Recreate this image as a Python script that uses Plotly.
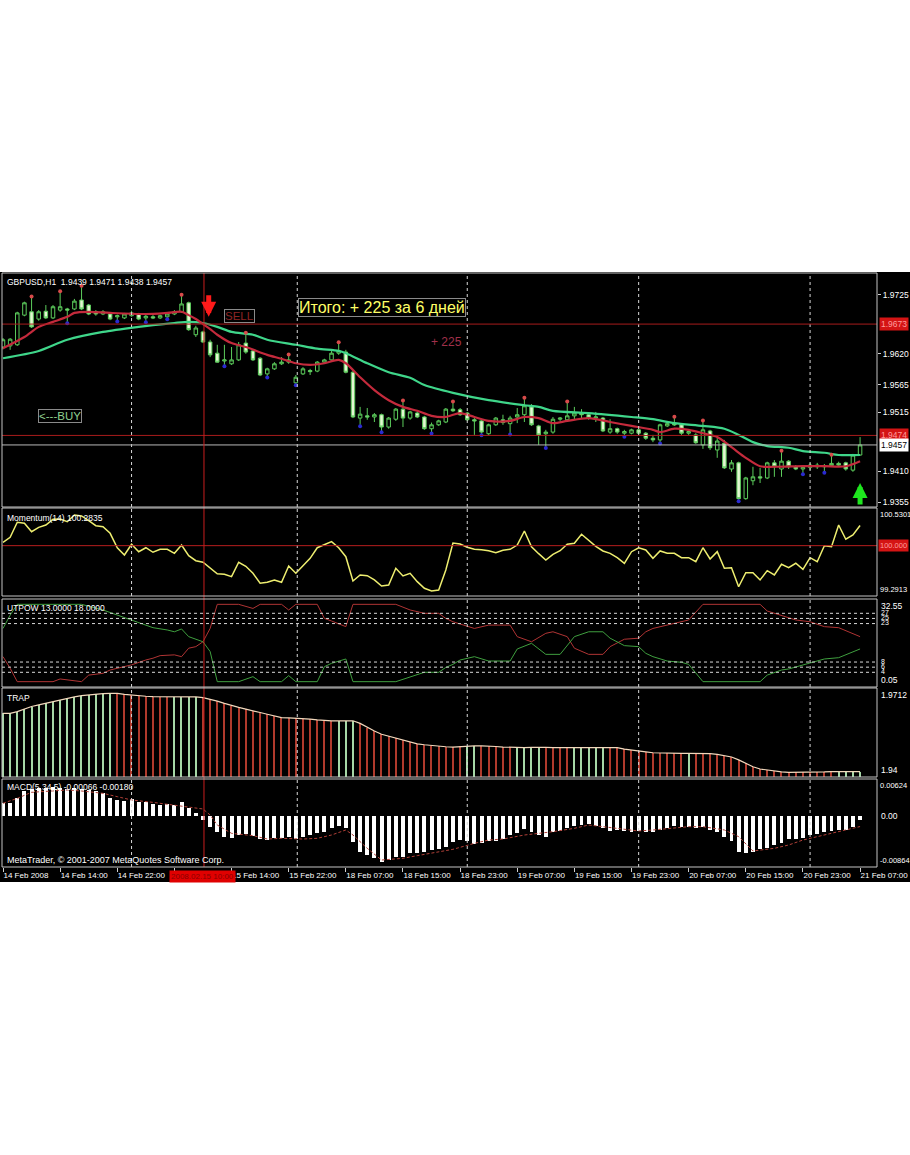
import plotly.graph_objects as go

W, H = 910, 1155

# ---------------- data ----------------
bar_index = list(range(121))
x_tick_bars = [0, 8, 16, 24, 32, 40, 48, 56, 64, 72, 80, 88, 96, 104, 112, 120]
x_tick_text = ["14 Feb 2008", "14 Feb 14:00", "14 Feb 22:00", "15 Feb 06:00", "15 Feb 14:00",
               "15 Feb 22:00", "18 Feb 07:00", "18 Feb 15:00", "18 Feb 23:00", "19 Feb 07:00",
               "19 Feb 15:00", "19 Feb 23:00", "20 Feb 07:00", "20 Feb 15:00", "20 Feb 23:00",
               "21 Feb 07:00"]
day_grid_bars = [18, 41.2, 65, 89, 113]

opens = [1.9632, 1.9634, 1.9636, 1.9689, 1.9695, 1.9682, 1.9696, 1.9684, 1.9698, 1.9700,
         1.9700, 1.9716, 1.9707, 1.9695, 1.9691, 1.9691, 1.9686, 1.9684, 1.9688, 1.9691,
         1.9684, 1.9686, 1.9684, 1.9686, 1.9691, 1.9695, 1.9711, 1.9654, 1.9659, 1.9641,
         1.9621, 1.9607, 1.9602, 1.9609, 1.9639, 1.9625, 1.9612, 1.9584, 1.9593, 1.9602,
         1.9605, 1.9568, 1.9584, 1.9590, 1.9589, 1.9605, 1.9609, 1.9621, 1.9623, 1.9587,
         1.9505, 1.9509, 1.9507, 1.9511, 1.9489, 1.9503, 1.9521, 1.9505, 1.9514, 1.9507,
         1.9486, 1.9493, 1.9498, 1.9521, 1.9520, 1.9514, 1.9502, 1.9500, 1.9477, 1.9493,
         1.9502, 1.9495, 1.9507, 1.9511, 1.9525, 1.9491, 1.9477, 1.9480, 1.9503, 1.9502,
         1.9509, 1.9514, 1.9511, 1.9505, 1.9505, 1.9480, 1.9486, 1.9478, 1.9478, 1.9484,
         1.9478, 1.9469, 1.9466, 1.9491, 1.9495, 1.9493, 1.9478, 1.9475, 1.9457, 1.9482,
         1.9448, 1.9460, 1.9414, 1.9425, 1.9361, 1.9393, 1.9400, 1.9398, 1.9425, 1.9414,
         1.9428, 1.9418, 1.9414, 1.9417, 1.9421, 1.9418, 1.9420, 1.9424, 1.9425, 1.9412,
         1.9439]
highs = [1.9648, 1.9648, 1.9695, 1.9713, 1.9720, 1.9698, 1.9707, 1.9707, 1.9729, 1.9702,
         1.9718, 1.9739, 1.9709, 1.9698, 1.9698, 1.9693, 1.9690, 1.9693, 1.9697, 1.9693,
         1.9690, 1.9689, 1.9690, 1.9693, 1.9698, 1.9723, 1.9713, 1.9670, 1.9661, 1.9645,
         1.9636, 1.9636, 1.9632, 1.9641, 1.9655, 1.9627, 1.9614, 1.9595, 1.9605, 1.9614,
         1.9616, 1.9582, 1.9596, 1.9593, 1.9607, 1.9611, 1.9625, 1.9638, 1.9627, 1.9589,
         1.9525, 1.9523, 1.9514, 1.9513, 1.9507, 1.9523, 1.9534, 1.9518, 1.9518, 1.9509,
         1.9497, 1.9502, 1.9523, 1.9532, 1.9523, 1.9516, 1.9505, 1.9502, 1.9495, 1.9507,
         1.9511, 1.9509, 1.9523, 1.9539, 1.9530, 1.9493, 1.9484, 1.9507, 1.9507, 1.9532,
         1.9525, 1.9521, 1.9514, 1.9516, 1.9507, 1.9503, 1.9488, 1.9484, 1.9486, 1.9486,
         1.9480, 1.9475, 1.9495, 1.9498, 1.9505, 1.9495, 1.9484, 1.9478, 1.9498, 1.9484,
         1.9470, 1.9466, 1.9430, 1.9427, 1.9400, 1.9418, 1.9416, 1.9427, 1.9430, 1.9444,
         1.9430, 1.9421, 1.9420, 1.9425, 1.9425, 1.9423, 1.9437, 1.9427, 1.9427, 1.9441,
         1.9471]
lows = [1.9628, 1.9627, 1.9634, 1.9687, 1.9666, 1.9679, 1.9682, 1.9682, 1.9695, 1.9677,
        1.9698, 1.9698, 1.9689, 1.9688, 1.9689, 1.9680, 1.9680, 1.9682, 1.9686, 1.9680,
        1.9679, 1.9682, 1.9682, 1.9684, 1.9689, 1.9693, 1.9661, 1.9650, 1.9639, 1.9614,
        1.9604, 1.9600, 1.9600, 1.9607, 1.9620, 1.9607, 1.9580, 1.9580, 1.9591, 1.9600,
        1.9602, 1.9566, 1.9582, 1.9582, 1.9587, 1.9602, 1.9607, 1.9618, 1.9585, 1.9505,
        1.9493, 1.9502, 1.9498, 1.9482, 1.9486, 1.9500, 1.9489, 1.9502, 1.9505, 1.9484,
        1.9480, 1.9491, 1.9496, 1.9516, 1.9509, 1.9500, 1.9475, 1.9477, 1.9475, 1.9491,
        1.9493, 1.9478, 1.9496, 1.9498, 1.9491, 1.9457, 1.9454, 1.9477, 1.9500, 1.9498,
        1.9502, 1.9505, 1.9502, 1.9498, 1.9480, 1.9477, 1.9477, 1.9474, 1.9476, 1.9475,
        1.9466, 1.9462, 1.9462, 1.9489, 1.9491, 1.9475, 1.9475, 1.9459, 1.9450, 1.9448,
        1.9434, 1.9414, 1.9409, 1.9359, 1.9359, 1.9385, 1.9389, 1.9396, 1.9400, 1.9400,
        1.9414, 1.9412, 1.9407, 1.9412, 1.9414, 1.9410, 1.9418, 1.9418, 1.9411, 1.9409,
        1.9438]
closes = [1.9645, 1.9646, 1.9693, 1.9711, 1.9668, 1.9695, 1.9684, 1.9704, 1.9704, 1.9698,
          1.9714, 1.9700, 1.9691, 1.9691, 1.9695, 1.9682, 1.9688, 1.9691, 1.9693, 1.9682,
          1.9687, 1.9684, 1.9688, 1.9691, 1.9695, 1.9709, 1.9663, 1.9666, 1.9641, 1.9618,
          1.9605, 1.9609, 1.9609, 1.9636, 1.9623, 1.9609, 1.9582, 1.9593, 1.9602, 1.9605,
          1.9609, 1.9578, 1.9593, 1.9588, 1.9605, 1.9609, 1.9621, 1.9625, 1.9587, 1.9507,
          1.9512, 1.9507, 1.9511, 1.9489, 1.9505, 1.9521, 1.9505, 1.9516, 1.9507, 1.9486,
          1.9493, 1.9500, 1.9521, 1.9518, 1.9511, 1.9502, 1.9500, 1.9480, 1.9493, 1.9505,
          1.9497, 1.9505, 1.9511, 1.9527, 1.9493, 1.9475, 1.9480, 1.9503, 1.9505, 1.9509,
          1.9514, 1.9511, 1.9505, 1.9507, 1.9482, 1.9486, 1.9480, 1.9481, 1.9484, 1.9478,
          1.9469, 1.9466, 1.9493, 1.9495, 1.9493, 1.9478, 1.9481, 1.9461, 1.9484, 1.9452,
          1.9464, 1.9416, 1.9425, 1.9361, 1.9398, 1.9400, 1.9398, 1.9425, 1.9418, 1.9428,
          1.9418, 1.9414, 1.9417, 1.9421, 1.9418, 1.9420, 1.9424, 1.9421, 1.9414, 1.9439,
          1.9457]

fractal_up_bars = [4, 8, 11, 25, 34, 40, 47, 56, 63, 73, 79, 94, 98, 109, 116]
fractal_dn_bars = [9, 16, 20, 23, 31, 37, 41, 50, 53, 60, 67, 71, 76, 87, 92, 103, 112, 115]

ma_fast_bars = [0, 3, 5, 7, 9, 10, 12, 15, 20, 23, 25, 26, 27, 28, 29, 30, 32, 34, 37, 39, 41, 43,
                45, 47, 48, 50, 52, 54, 56, 58, 60, 62, 64, 66, 68, 71, 73, 75, 77, 79, 82, 85,
                88, 91, 92, 94, 96, 98, 100, 102, 104, 106, 108, 112, 115, 118, 120]
ma_fast_vals = [1.9630, 1.9650, 1.9668, 1.9677, 1.9686, 1.9693, 1.9695, 1.9693, 1.9691, 1.9693,
                1.9695, 1.9689, 1.9682, 1.9673, 1.9664, 1.9654, 1.9639, 1.9632, 1.9618, 1.9611,
                1.9603, 1.9600, 1.9603, 1.9609, 1.9603, 1.9578, 1.9555, 1.9537, 1.9525, 1.9518,
                1.9509, 1.9507, 1.9514, 1.9507, 1.9500, 1.9500, 1.9507, 1.9505, 1.9496, 1.9500,
                1.9505, 1.9498, 1.9491, 1.9484, 1.9480, 1.9486, 1.9484, 1.9478, 1.9471, 1.9453,
                1.9434, 1.9419, 1.9418, 1.9419, 1.9419, 1.9419, 1.9428]
ma_slow_bars = [0, 5, 9, 14, 19, 21, 24, 26, 28, 30, 32, 35, 37, 41, 44, 47, 48, 51, 54, 57, 59,
                63, 68, 73, 75, 77, 82, 88, 91, 94, 98, 101, 103, 105, 107, 110, 112, 115, 117, 120]
ma_slow_vals = [1.9612, 1.9625, 1.9645, 1.9659, 1.9668, 1.9671, 1.9675, 1.9677, 1.9675, 1.9668,
                1.9659, 1.9654, 1.9645, 1.9636, 1.9629, 1.9625, 1.9621, 1.9603, 1.9587, 1.9577,
                1.9564, 1.9550, 1.9537, 1.9528, 1.9525, 1.9518, 1.9514, 1.9507, 1.9503, 1.9496,
                1.9491, 1.9486, 1.9475, 1.9462, 1.9455, 1.9452, 1.9446, 1.9443, 1.9439, 1.9439]

price_ticks = [1.9725, 1.9620, 1.9565, 1.9515, 1.9410, 1.9355]
line_levels = [1.9673, 1.9474]
bid_price = 1.9457
sell_signal = (28.8, 1.9686)
buy_signal = (120.0, 1.9389)

momentum = [100.047, 100.118, 100.329, 100.315, 100.197, 100.258, 100.291, 100.371, 100.375, 100.337,
            100.432, 100.418, 100.351, 100.281, 100.267, 100.174, 99.971, 99.869, 100.019, 99.915,
            99.971, 99.907, 99.949, 99.949, 99.892, 100.009, 99.859, 99.788, 99.766, 99.690,
            99.605, 99.597, 99.563, 99.766, 99.709, 99.611, 99.470, 99.484, 99.517, 99.484,
            99.714, 99.611, 99.714, 99.822, 99.971, 100.009, 100.056, 99.971, 99.845, 99.503,
            99.587, 99.577, 99.517, 99.432, 99.446, 99.681, 99.573, 99.611, 99.493, 99.400,
            99.362, 99.376, 99.657, 100.037, 100.023, 99.977, 99.949, 99.943, 99.929, 99.901,
            99.935, 99.949, 100.009, 100.206, 99.985, 99.887, 99.798, 99.878, 99.929, 100.019,
            100.033, 100.160, 100.070, 99.991, 99.925, 99.892, 99.831, 99.752, 99.915, 99.971,
            99.939, 99.822, 99.925, 99.892, 99.892, 99.831, 99.831, 99.774, 99.971, 99.812,
            99.915, 99.681, 99.690, 99.422, 99.619, 99.619, 99.517, 99.648, 99.587, 99.738,
            99.690, 99.752, 99.667, 99.831, 99.774, 99.999, 99.985, 100.291, 100.090, 100.150,
            100.2835]
momentum_level = 100.0
momentum_max, momentum_min = 100.5301, 99.2913

utp_green_bars = [0, 1, 2, 11, 14, 16, 18, 19, 21, 23, 24, 25, 26, 28, 29, 30, 33, 35, 36, 39, 40,
                  41, 44, 45, 46, 48, 49, 55, 57, 59, 61, 62, 63, 64, 66, 68, 71, 72, 74, 76, 78,
                  79, 80, 82, 84, 85, 87, 89, 90, 91, 93, 95, 96, 98, 106, 107, 109, 110, 112,
                  114, 115, 117, 119, 120]
utp_green_vals = [21.1, 26.3, 30.5, 30.5, 28.3, 26.3, 24.4, 23.1, 21.4, 20.5, 19.8, 20.9, 17.9,
                  15.9, 12.1, 0.35, 0.35, 2.3, 0.35, 0.35, 2.7, 0.35, 0.35, 6.2, 7.5, 9.2, 0.35,
                  0.35, 2.3, 4.0, 4.0, 5.9, 7.1, 8.8, 10.1, 8.4, 8.4, 13.1, 15.3, 11.0, 11.0, 14.4,
                  17.9, 19.8, 19.8, 17.3, 14.4, 14.0, 11.4, 10.1, 8.4, 7.9, 7.1, 0.35, 0.35, 2.9,
                  4.9, 5.3, 6.9, 8.2, 9.2, 9.7, 12.1, 13.1]
utp_red_bars = [0, 1, 2, 7, 8, 9, 11, 12, 14, 15, 18, 20, 21, 22, 24, 25, 26, 27, 28, 29, 30, 33,
                35, 36, 39, 40, 41, 44, 45, 46, 48, 49, 55, 57, 59, 61, 62, 63, 65, 66, 68, 71, 72,
                74, 76, 77, 79, 80, 82, 84, 85, 87, 89, 90, 91, 93, 95, 96, 98, 106, 107, 109, 111,
                113, 115, 117, 120]
utp_red_vals = [10.1, 5.6, 0.35, 0.35, 1.4, 1.0, 0.35, 2.9, 3.6, 4.9, 6.9, 8.8, 9.5, 10.5, 10.8,
                10.1, 13.4, 14.0, 15.9, 21.1, 30.5, 30.5, 28.9, 30.5, 30.5, 28.3, 30.5, 30.5, 25.0,
                24.0, 21.8, 30.5, 30.5, 28.3, 27.0, 27.0, 25.0, 23.7, 21.8, 21.1, 22.4, 22.4, 17.9,
                15.9, 19.2, 19.8, 17.9, 13.4, 11.0, 11.0, 14.0, 16.9, 17.3, 19.8, 21.1, 22.4, 23.7,
                24.4, 30.5, 30.5, 27.9, 26.3, 24.4, 23.7, 21.8, 21.4, 17.9]
utp_levels = [27, 25, 23, 8, 6, 4]
utp_max, utp_min = 32.58, -1.73

trap = [1.9623, 1.9623, 1.9629, 1.9638, 1.9647, 1.9653, 1.9659, 1.9664, 1.9670, 1.9676,
        1.9681, 1.9685, 1.9688, 1.9691, 1.9692, 1.9693, 1.9693, 1.9690, 1.9687, 1.9685,
        1.9683, 1.9682, 1.9682, 1.9682, 1.9682, 1.9682, 1.9682, 1.9681, 1.9678, 1.9673,
        1.9666, 1.9658, 1.9650, 1.9644, 1.9638, 1.9631, 1.9626, 1.9620, 1.9614, 1.9608,
        1.9607, 1.9606, 1.9604, 1.9603, 1.9600, 1.9598, 1.9597, 1.9597, 1.9597, 1.9597,
        1.9588, 1.9573, 1.9561, 1.9550, 1.9543, 1.9536, 1.9530, 1.9522, 1.9516, 1.9513,
        1.9510, 1.9508, 1.9506, 1.9505, 1.9507, 1.9509, 1.9509, 1.9509, 1.9509, 1.9507,
        1.9505, 1.9504, 1.9503, 1.9503, 1.9504, 1.9505, 1.9504, 1.9503, 1.9503, 1.9504,
        1.9504, 1.9504, 1.9503, 1.9504, 1.9505, 1.9504, 1.9503, 1.9498, 1.9494, 1.9491,
        1.9488, 1.9485, 1.9484, 1.9483, 1.9483, 1.9483, 1.9483, 1.9483, 1.9483, 1.9482,
        1.9479, 1.9475, 1.9470, 1.9460, 1.9448, 1.9436, 1.9428, 1.9424, 1.9421, 1.9418,
        1.9416, 1.9416, 1.9416, 1.9417, 1.9417, 1.9418, 1.9419, 1.9419, 1.9419, 1.9419,
        1.9419]
trap_up_bars = list(range(0, 16)) + [24, 25, 26, 27, 47, 48, 49, 65, 66, 72, 73, 74, 75,
                                     80, 81, 82, 83, 84, 96, 117, 118, 119, 120]
trap_base, trap_max = 1.94, 1.9712

macd_hist = [0.00213, 0.00219, 0.00298, 0.00421, 0.00455, 0.00467, 0.00478, 0.00495, 0.00467, 0.00455,
             0.00467, 0.00455, 0.00438, 0.00421, 0.00382, 0.00308, 0.00269, 0.00252, 0.00280, 0.00240,
             0.00229, 0.00196, 0.00185, 0.00196, 0.00185, 0.00229, 0.00139, 0.00044, -0.00069, -0.00182,
             -0.00267, -0.00351, -0.00379, -0.00323, -0.00312, -0.00334, -0.00391, -0.00408, -0.00379, -0.00379,
             -0.00351, -0.00391, -0.00351, -0.00323, -0.00295, -0.00267, -0.00210, -0.00166, -0.00199, -0.00436,
             -0.00605, -0.00661, -0.00717, -0.00774, -0.00746, -0.00690, -0.00690, -0.00633, -0.00633, -0.00605,
             -0.00577, -0.00558, -0.00521, -0.00436, -0.00408, -0.00425, -0.00481, -0.00464, -0.00425, -0.00425,
             -0.00391, -0.00323, -0.00295, -0.00222, -0.00267, -0.00323, -0.00351, -0.00278, -0.00256, -0.00210,
             -0.00166, -0.00155, -0.00144, -0.00166, -0.00210, -0.00250, -0.00239, -0.00256, -0.00267, -0.00256,
             -0.00267, -0.00278, -0.00239, -0.00199, -0.00166, -0.00182, -0.00182, -0.00210, -0.00182, -0.00239,
             -0.00267, -0.00351, -0.00425, -0.00616, -0.00633, -0.00605, -0.00558, -0.00537, -0.00492, -0.00464,
             -0.00391, -0.00391, -0.00368, -0.00323, -0.00312, -0.00267, -0.00256, -0.00239, -0.00239, -0.00182,
             -0.00066]
macd_sig_bars = [0, 2, 4, 7, 9, 11, 14, 16, 18, 21, 23, 25, 28, 29, 30, 32, 35, 37, 39, 42, 44, 46,
                 48, 49, 51, 53, 56, 58, 60, 63, 66, 68, 70, 73, 75, 77, 80, 82, 84, 87, 89, 91, 94,
                 96, 98, 101, 103, 105, 108, 110, 112, 115, 117, 119, 120]
macd_sig_vals = [0.00213, 0.00297, 0.00399, 0.00421, 0.00438, 0.00421, 0.00382, 0.00325, 0.00269,
                 0.00229, 0.00196, 0.00156, 0.00117, 0.00015, -0.00154, -0.00295, -0.00334, -0.00391,
                 -0.00379, -0.00391, -0.00379, -0.00323, -0.00238, -0.00323, -0.00548, -0.00746,
                 -0.00717, -0.00672, -0.00633, -0.00565, -0.00464, -0.00408, -0.00391, -0.00323,
                 -0.00295, -0.00267, -0.00210, -0.00154, -0.00182, -0.00221, -0.00255, -0.00238,
                 -0.00199, -0.00182, -0.00182, -0.00238, -0.00351, -0.00593, -0.00548, -0.00492,
                 -0.00408, -0.00323, -0.00267, -0.00210, -0.00180]
macd_max, macd_min = 0.00624, -0.00864

# ---------------- geometry helpers ----------------
def py(p):
    return 1 - p / H

def dom(top, bot):
    return [py(bot), py(top)]

X0, X1 = 2, 877
PANELS = {"y": (273, 507), "y2": (508, 596), "y3": (599, 687), "y4": (688, 777), "y5": (779, 867)}
FONT = "Liberation Sans"
GREEN_C = "#5ccc5c"

fig = go.Figure()

fig.add_trace(go.Candlestick(
    x=bar_index, open=opens, high=highs, low=lows, close=closes,
    increasing=dict(line=dict(color=GREEN_C, width=1), fillcolor="#000000"),
    decreasing=dict(line=dict(color=GREEN_C, width=1), fillcolor="#e4f7d2"),
    whiskerwidth=0, hoverinfo="skip", xaxis="x", yaxis="y"))

fig.add_trace(go.Scatter(x=ma_slow_bars, y=ma_slow_vals, mode="lines",
                         line=dict(color="#3fd68a", width=2.2, shape="spline", smoothing=0.8),
                         yaxis="y"))
fig.add_trace(go.Scatter(x=ma_fast_bars, y=ma_fast_vals, mode="lines",
                         line=dict(color="#c42a3c", width=2.2, shape="spline", smoothing=0.8),
                         yaxis="y"))

fig.add_trace(go.Scatter(x=fractal_up_bars, y=[highs[i] + 0.00025 for i in fractal_up_bars],
                         mode="markers", marker=dict(color="#d84a4a", size=4), yaxis="y"))
fig.add_trace(go.Scatter(x=fractal_dn_bars, y=[lows[i] - 0.00025 for i in fractal_dn_bars],
                         mode="markers", marker=dict(color="#2a2ad0", size=4), yaxis="y"))

fig.add_trace(go.Scatter(x=bar_index, y=momentum, mode="lines",
                         line=dict(color="#eeee70", width=1.5), yaxis="y2"))

fig.add_trace(go.Scatter(x=utp_red_bars, y=utp_red_vals, mode="lines",
                         line=dict(color="#b03434", width=1), yaxis="y3"))
fig.add_trace(go.Scatter(x=utp_green_bars, y=utp_green_vals, mode="lines",
                         line=dict(color="#3f9f3f", width=1), yaxis="y3"))

up_set = set(trap_up_bars)
trap_colors = ["#a6d8a6" if i in up_set else "#b03a2c" for i in bar_index]
fig.add_trace(go.Bar(x=bar_index, y=[v - trap_base for v in trap], base=trap_base,
                     width=0.16, marker=dict(color=trap_colors, line=dict(width=0)), yaxis="y4"))
fig.add_trace(go.Scatter(x=bar_index, y=trap, mode="lines",
                         line=dict(color="#f2d8bc", width=1.2), yaxis="y4"))

fig.add_trace(go.Bar(x=bar_index, y=macd_hist, width=0.55,
                     marker=dict(color="#ffffff", line=dict(width=0)), yaxis="y5"))
fig.add_trace(go.Scatter(x=macd_sig_bars, y=macd_sig_vals, mode="lines",
                         line=dict(color="#b04038", width=1, dash="3px,2px"), yaxis="y5"))

# ---------------- shapes ----------------
shapes = []
shapes.append(dict(type="rect", xref="paper", yref="paper", x0=0, x1=1, y0=py(882), y1=py(272),
                   fillcolor="#000000", line=dict(width=0), layer="below"))
for b in day_grid_bars:
    for ax, (t, bt) in PANELS.items():
        shapes.append(dict(type="line", xref="x", yref="paper", x0=b, x1=b, y0=py(bt), y1=py(t),
                           line=dict(color="#d8d8d8", width=1, dash="3px,3px")))
for lv in line_levels:
    shapes.append(dict(type="line", xref="x domain", yref="y", x0=0, x1=1, y0=lv, y1=lv,
                       line=dict(color="#a81c1c", width=1)))
shapes.append(dict(type="line", xref="x domain", yref="y", x0=0, x1=1, y0=bid_price, y1=bid_price,
                   line=dict(color="#b8b8b8", width=1)))
shapes.append(dict(type="line", xref="x domain", yref="y2", x0=0, x1=1, y0=momentum_level,
                   y1=momentum_level, line=dict(color="#b81e1e", width=1)))
for lv in utp_levels:
    shapes.append(dict(type="line", xref="x domain", yref="y3", x0=0, x1=1, y0=lv, y1=lv,
                       line=dict(color="#d8d8d8", width=1, dash="3px,3px")))
shapes.append(dict(type="line", xref="x", yref="paper", x0=28.14, x1=28.14, y0=py(867), y1=py(273),
                   line=dict(color="#c81e1e", width=1)))
for ax, (t, bt) in PANELS.items():
    shapes.append(dict(type="rect", xref="paper", yref="paper", x0=X0 / W, x1=X1 / W,
                       y0=py(bt), y1=py(t), line=dict(color="#c4c4c4", width=1)))

# ---------------- annotations ----------------
ann = []

def txt(text, x, y, size=8.5, color="#ffffff", xanchor="left", yanchor="middle", **kw):
    d = dict(text=text, x=x / W, y=py(y), xref="paper", yref="paper", showarrow=False,
             xanchor=xanchor, yanchor=yanchor, font=dict(family=FONT, size=size, color=color))
    d.update(kw)
    ann.append(d)

txt("GBPUSD,H1  1.9439 1.9471 1.9438 1.9457", 5, 281.5)
txt("Momentum(14) 100.2835", 5, 517.5)
txt("UTPOW 13.0000 18.0000", 5, 607.5)
txt("TRAP", 5, 697.5)
txt("MACD(5,34,5) -0.00066 -0.00180", 5, 787.5)
txt("MetaTrader, © 2001-2007 MetaQuotes Software Corp.", 5, 859.5, size=9)

txt("Итого: + 225 за 6 дней", 382, 308, size=16, color="#ffff66", xanchor="center",
    bordercolor="#8a8a8a", borderwidth=1, borderpad=0, bgcolor="#000000")
txt("SELL", 239, 316, size=11.5, color="#8c2424", xanchor="center",
    bordercolor="#8a8a8a", borderwidth=1, borderpad=0)
txt("<---BUY", 60, 416, size=11.5, color="#8fd08f", xanchor="center",
    bordercolor="#8a8a8a", borderwidth=1, borderpad=0)
txt("+ 225", 446, 342, size=12, color="#a0304a", xanchor="center")

RX = 879
for lv, bg, fc in [(line_levels[0], "#d41414", "#ff9c9c"), (line_levels[1], "#d41414", "#ff9c9c"),
                   (bid_price, "#ffffff", "#000000")]:
    ann.append(dict(text=f"{lv:.4f}", x=RX / W, xref="paper", y=lv, yref="y", showarrow=False,
                    xanchor="left", yanchor="middle", bgcolor=bg, borderpad=1,
                    font=dict(family=FONT, size=8.5, color=fc)))

def rlab(text, y, yref, yanchor="middle", bg=None, fc="#ffffff", yshift=0, size=8.5, x=RX):
    d = dict(text=text, x=x / W, xref="paper", y=y, yref=yref, showarrow=False,
             xanchor="left", yanchor=yanchor, yshift=yshift,
             font=dict(family=FONT, size=size, color=fc))
    if bg:
        d.update(bgcolor=bg, borderpad=1)
    ann.append(d)

rlab(f"{momentum_max:.4f}", momentum_max, "y2", "top", size=7.5, x=878)
rlab("100.000", momentum_level, "y2", "middle", bg="#d41414", fc="#ff9c9c", size=7.5, x=878)
rlab(f"{momentum_min:.4f}", momentum_min, "y2", "bottom", size=7.5, x=878)
rlab("32.55", utp_max, "y3", "top")
for lv in utp_levels:
    rlab(str(lv), lv, "y3", "middle", yshift=1, size=7)
rlab("0.05", utp_min, "y3", "bottom")
rlab(f"{trap_max:.4f}", trap_max, "y4", "top")
rlab("1.94", trap_base, "y4", "bottom")
rlab(f"{macd_max:.5f}", macd_max, "y5", "top", size=7.5, x=878)
rlab("0.00", 0, "y5", "middle")
rlab(f"{macd_min:.5f}", macd_min, "y5", "bottom", size=7.5, x=878)

ann.append(dict(text="2008.02.15 10:00", x=28.0, xref="x", y=py(876), yref="paper", showarrow=False,
                xanchor="center", yanchor="middle", bgcolor="#e00000", borderpad=1,
                font=dict(family=FONT, size=8, color="#8a0000")))

ann.append(dict(x=sell_signal[0], y=sell_signal[1], xref="x", yref="y", text="", showarrow=True,
                arrowhead=2, arrowsize=0.6, arrowwidth=5, arrowcolor="#ff1a1a", ax=0, ay=-23,
                standoff=0, startstandoff=0))
ann.append(dict(x=buy_signal[0], y=buy_signal[1], xref="x", yref="y", text="", showarrow=True,
                arrowhead=2, arrowsize=0.6, arrowwidth=5, arrowcolor="#1ee61e", ax=0, ay=23,
                standoff=0, startstandoff=0))

# ---------------- layout ----------------
def blank_y(rng, t, bt):
    return dict(domain=dom(t, bt), range=rng, anchor="x", showgrid=False, zeroline=False,
                showticklabels=False, ticks="", showline=False, fixedrange=True, automargin=False)

fig.update_layout(
    width=W, height=H, margin=dict(l=0, r=0, t=0, b=0, autoexpand=False),
    paper_bgcolor="#ffffff", plot_bgcolor="#000000",
    showlegend=False, barmode="overlay", bargap=0,
    shapes=shapes, annotations=ann,
    xaxis=dict(domain=[X0 / W, X1 / W], range=[-0.14, 122.37], anchor="y5", automargin=False,
               showgrid=False, zeroline=False, showline=False, rangeslider=dict(visible=False),
               tickmode="array", tickvals=x_tick_bars, ticktext=x_tick_text, tickangle=0,
               ticks="outside", ticklen=4, tickcolor="#d0d0d0",
               ticklabelposition="outside right", ticklabeloverflow="allow",
               tickfont=dict(family=FONT, size=8, color="#ffffff"), fixedrange=True),
    yaxis=dict(domain=dom(*PANELS["y"]), range=[1.93461, 1.97643], anchor="x", side="right",
               showgrid=False, zeroline=False, showline=False, automargin=False,
               tickmode="array", tickvals=price_ticks, ticktext=[f"{v:.4f}" for v in price_ticks],
               ticks="outside", ticklen=3, tickcolor="#d0d0d0",
               tickfont=dict(family=FONT, size=8.5, color="#ffffff"), fixedrange=True),
    yaxis2=blank_y([momentum_min, momentum_max], *PANELS["y2"]),
    yaxis3=blank_y([utp_min, utp_max], *PANELS["y3"]),
    yaxis4=blank_y([trap_base, trap_max], *PANELS["y4"]),
    yaxis5=blank_y([macd_min, macd_max], *PANELS["y5"]),
)

fig.write_html(
    "out.html", config={"displayModeBar": False},
    post_script=("document.documentElement.style.margin='0';document.body.style.margin='0';"
                 "document.body.style.padding='0';document.body.style.overflow='hidden';"
                 "document.documentElement.style.overflow='hidden';"
                 "var gd=document.querySelector('.plotly-graph-div');"
                 "if(gd){gd.style.overflow='hidden';}"))
